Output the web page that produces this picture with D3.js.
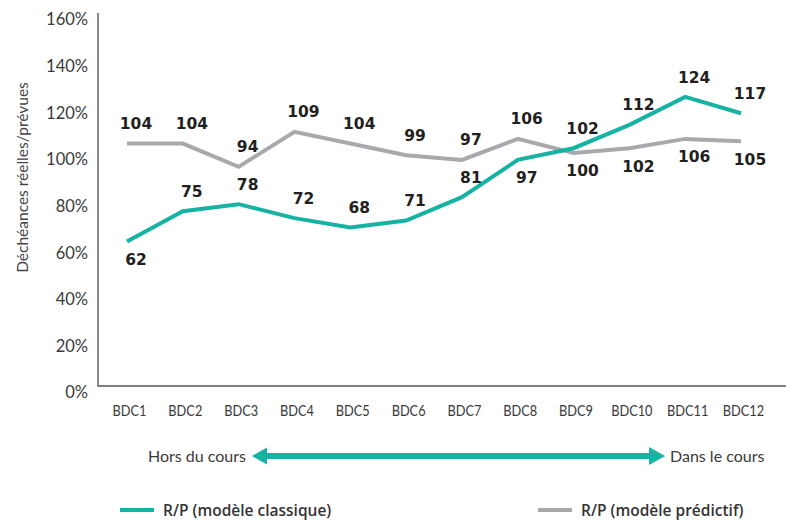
<!DOCTYPE html>
<html>
<head>
<meta charset="utf-8">
<script src="https://cdn.jsdelivr.net/npm/d3@7"></script>
<style>
  html, body { margin: 0; padding: 0; background: #fff; }
  svg { display: block; }
</style>
</head>
<body>
<svg id="chart" width="786" height="520"></svg>
<script>
// Batches and ratio of actual to expected lapses (%)
const categories = ["BDC1","BDC2","BDC3","BDC4","BDC5","BDC6","BDC7","BDC8","BDC9","BDC10","BDC11","BDC12"];
const classique = [62, 75, 78, 72, 68, 71, 81, 97, 102, 112, 124, 117];
const predictif = [104, 104, 94, 109, 104, 99, 97, 106, 100, 102, 106, 105];
const yTicks = [0, 20, 40, 60, 80, 100, 120, 140, 160];
const seriesNames = ["R/P (modèle classique)", "R/P (modèle prédictif)"];
const axisTitle = "Déchéances réelles/prévues";
const leftNote = "Hors du cours";
const rightNote = "Dans le cours";

// Which side of the line each value label sits on
const classiqueBelow = new Set(["BDC1", "BDC8"]);
const predictifBelow = new Set(["BDC9", "BDC10", "BDC11", "BDC12"]);

const TEAL = "#16b3a3";
const GREY = "#a7a9ac";
const TEXT = "#3a3a3a";

const svg = d3.select("#chart");

const x = d3.scalePoint().domain(categories).range([127, 741]);
const y = d3.scaleLinear().domain([0, 160]).range([386, 13]);

// Axes
const yAxis = d3.axisLeft(y).tickValues(yTicks).tickSize(0).tickPadding(10)
  .tickFormat(d => d + "%");
const gy = svg.append("g").attr("transform", "translate(98,0)").call(yAxis);
gy.select(".domain").remove();
gy.selectAll("text")
  .attr("dy", "0.72em")
  .attr("fill", TEXT)
  .style("font-family", "Lato, sans-serif")
  .style("font-size", "16.5px");

const xAxis = d3.axisBottom(x).tickSize(0).tickPadding(0);
const gx = svg.append("g").attr("transform", "translate(0,386)").call(xAxis);
gx.select(".domain").remove();
gx.selectAll("text")
  .attr("y", 0)
  .attr("dy", 0)
  .attr("transform", "translate(2,30) scale(0.8,1)")
  .attr("fill", TEXT)
  .style("font-family", "Lato, sans-serif")
  .style("font-size", "16px");

svg.append("path")
  .attr("d", `M98,13V386H786`)
  .attr("fill", "none")
  .attr("stroke", "#555")
  .attr("stroke-width", 1.4);

// Vertical axis title
svg.append("text")
  .attr("transform", `translate(28,${(y(0) + y(160)) / 2 - 22}) rotate(-90)`)
  .attr("text-anchor", "middle")
  .attr("fill", "#444")
  .style("font-family", "Lato, sans-serif")
  .style("font-size", "15.5px")
  .text(axisTitle);

// Lines
const line = d3.line().x((d, i) => x(categories[i])).y(d => y(d));

svg.append("path").datum(predictif)
  .attr("d", line)
  .attr("fill", "none").attr("stroke", GREY).attr("stroke-width", 4)
  .attr("stroke-linejoin", "miter");

svg.append("path").datum(classique)
  .attr("d", line)
  .attr("fill", "none").attr("stroke", TEAL).attr("stroke-width", 4)
  .attr("stroke-linejoin", "miter");

// Value labels
function labels(values, below) {
  svg.append("g").selectAll("text").data(values).join("text")
    .attr("x", (d, i) => x(categories[i]) + 9)
    .attr("y", (d, i) => y(d) + (below.has(categories[i]) ? 18 : -20))
    .attr("dy", "0.36em")
    .attr("text-anchor", "middle")
    .attr("fill", "#231f20")
    .style("font-family", "'DejaVu Sans', sans-serif")
    .style("font-weight", "bold")
    .style("font-size", "15.5px")
    .text(d => d);
}
labels(predictif, predictifBelow);
labels(classique, classiqueBelow);

// Double-headed arrow with its end notes
const arrowY = 456;
const aL = 252, aR = 665;
svg.append("path")
  .attr("d", `M${aL},${arrowY} L${aL + 15},${arrowY - 8.5} L${aL + 15},${arrowY - 3} L${aR - 16},${arrowY - 3} L${aR - 16},${arrowY - 9} L${aR},${arrowY} L${aR - 16},${arrowY + 9} L${aR - 16},${arrowY + 3} L${aL + 15},${arrowY + 3} L${aL + 15},${arrowY + 8.5} Z`)
  .attr("fill", TEAL);

svg.append("text")
  .attr("x", aL - 6).attr("y", arrowY).attr("dy", "0.35em")
  .attr("text-anchor", "end").attr("fill", TEXT)
  .style("font-family", "Lato, sans-serif").style("font-size", "16px")
  .text(leftNote);
svg.append("text")
  .attr("x", aR + 5).attr("y", arrowY).attr("dy", "0.35em")
  .attr("text-anchor", "start").attr("fill", TEXT)
  .style("font-family", "Lato, sans-serif").style("font-size", "16px")
  .text(rightNote);

// Legend
const legend = [
  { name: seriesNames[0], color: TEAL, x0: 120 },
  { name: seriesNames[1], color: GREY, x0: 538 }
];
const lg = svg.append("g").selectAll("g").data(legend).join("g")
  .attr("transform", d => `translate(${d.x0},510)`);
lg.append("line").attr("x1", 0).attr("x2", 34).attr("y1", 0).attr("y2", 0)
  .attr("stroke", d => d.color).attr("stroke-width", 4);
lg.append("text").attr("x", 43).attr("y", 0).attr("dy", "0.36em")
  .attr("fill", "#333")
  .style("font-family", "'Open Sans', sans-serif").style("font-weight", "600")
  .style("font-size", "15.5px")
  .text(d => d.name);
</script>
</body>
</html>
